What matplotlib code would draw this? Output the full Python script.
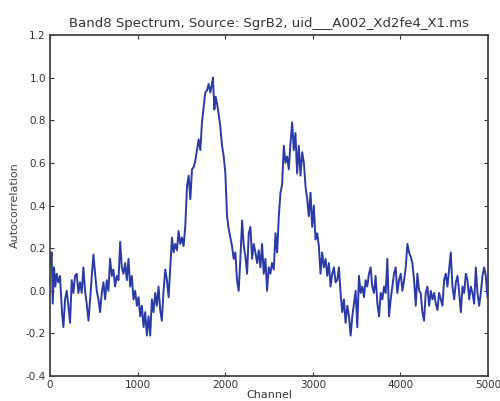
import matplotlib
matplotlib.use("Agg")
import matplotlib.pyplot as plt
from matplotlib.ticker import FormatStrFormatter

plt.rcParams['axes.unicode_minus'] = False
plt.rcParams['font.family'] = ['DejaVu Sans']

title = "Band8 Spectrum, Source: SgrB2, uid___A002_Xd2fe4_X1.ms"
x_label = "Channel"
y_label = "Autocorrelation"
x_ticks = [0, 1000, 2000, 3000, 4000, 5000]
y_ticks = [-0.4, -0.2, 0.0, 0.2, 0.4, 0.6, 0.8, 1.0, 1.2]

channel = [
    0, 19, 31, 46, 61, 76, 95, 114, 137, 153, 172, 191, 210, 229, 248, 267, 286,
    305, 324, 343, 362, 381, 400, 419, 439, 458, 477, 496, 515, 534, 553, 572,
    591, 610, 629, 648, 667, 686, 705, 724, 743, 763, 782, 801, 820, 839, 858,
    877, 896, 915, 934, 953, 972, 992, 1011, 1030, 1049, 1068, 1087, 1106, 1125,
    1144, 1163, 1182, 1201, 1220, 1239, 1258, 1277, 1296, 1316, 1335, 1354, 1373,
    1392, 1411, 1430, 1449, 1468, 1487, 1506, 1525, 1544, 1564, 1583, 1602, 1621,
    1640, 1659, 1678, 1697, 1716, 1735, 1754, 1773, 1792, 1811, 1830, 1849, 1860,
    1876, 1891, 1906, 1925, 1944, 1964, 1983, 2002, 2021, 2040, 2059, 2078, 2097,
    2116, 2135, 2154, 2173, 2193, 2212, 2231, 2250, 2269, 2288, 2307, 2326, 2345,
    2364, 2383, 2402, 2421, 2440, 2459, 2478, 2497, 2516, 2535, 2555, 2574, 2593,
    2612, 2631, 2650, 2669, 2688, 2707, 2726, 2745, 2764, 2783, 2802, 2821, 2840,
    2860, 2879, 2898, 2917, 2936, 2955, 2974, 2993, 3012, 3031, 3050, 3069, 3088,
    3107, 3127, 3146, 3165, 3184, 3203, 3222, 3241, 3260, 3279, 3298, 3317, 3336,
    3355, 3374, 3394, 3413, 3432, 3451, 3470, 3489, 3508, 3527, 3546, 3565, 3584,
    3603, 3622, 3641, 3660, 3679, 3698, 3717, 3737, 3756, 3775, 3794, 3813, 3832,
    3851, 3870, 3889, 3908, 3927, 3946, 3965, 3984, 4004, 4023, 4042, 4061, 4080,
    4099, 4118, 4137, 4156, 4175, 4194, 4213, 4232, 4251, 4270, 4289, 4308, 4328,
    4347, 4366, 4385, 4404, 4423, 4442, 4461, 4480, 4499, 4518, 4537, 4556, 4575,
    4594, 4614, 4633, 4652, 4671, 4690, 4709, 4728, 4747, 4766, 4785, 4804, 4823,
    4842, 4861, 4880, 4899, 4918, 4937, 4956, 4975, 4994,
]

autocorr = [
    0.12, 0.18, -0.06, 0.11, 0.02, 0.08, 0.04, 0.07, -0.10, -0.17, -0.04, 0.00,
    -0.07, -0.15, 0.05, -0.01, 0.07, 0.08, -0.01, 0.04, -0.01, 0.11, 0.00, -0.06,
    -0.14, -0.04, 0.07, 0.17, 0.08, 0.00, -0.04, -0.10, -0.01, 0.04, -0.04, 0.05,
    0.00, 0.15, 0.07, 0.10, 0.02, 0.07, 0.05, 0.23, 0.11, 0.08, 0.13, 0.05, 0.15,
    0.02, 0.07, -0.04, 0.00, -0.07, -0.03, -0.12, -0.07, -0.17, -0.10, -0.21,
    -0.12, -0.21, -0.04, -0.10, -0.01, -0.07, 0.02, -0.09, -0.14, 0.00, 0.10,
    0.05, -0.03, 0.11, 0.25, 0.18, 0.22, 0.19, 0.28, 0.22, 0.25, 0.21, 0.30,
    0.49, 0.54, 0.43, 0.57, 0.58, 0.61, 0.66, 0.71, 0.66, 0.79, 0.86, 0.93, 0.94,
    0.97, 0.93, 0.97, 1.00, 0.85, 0.91, 0.88, 0.83, 0.77, 0.68, 0.63, 0.55, 0.35,
    0.29, 0.25, 0.21, 0.15, 0.18, 0.05, 0.00, 0.15, 0.33, 0.21, 0.16, 0.08, 0.27,
    0.30, 0.15, 0.22, 0.18, 0.13, 0.19, 0.11, 0.22, 0.08, 0.15, 0.00, 0.11, 0.08,
    0.13, 0.10, 0.27, 0.18, 0.35, 0.46, 0.50, 0.68, 0.60, 0.63, 0.57, 0.69, 0.79,
    0.66, 0.74, 0.55, 0.68, 0.54, 0.65, 0.60, 0.49, 0.43, 0.35, 0.46, 0.30, 0.40,
    0.24, 0.27, 0.21, 0.08, 0.18, 0.11, 0.15, 0.07, 0.13, 0.02, 0.08, 0.11, 0.04,
    0.05, 0.11, -0.01, -0.10, -0.04, -0.15, -0.07, -0.12, -0.21, -0.12, -0.06,
    0.00, -0.17, 0.07, -0.01, 0.02, -0.03, 0.05, 0.02, 0.08, 0.11, 0.02, -0.01,
    0.07, -0.06, -0.12, -0.01, -0.04, 0.02, -0.01, 0.15, -0.12, -0.04, 0.02, 0.08,
    0.11, -0.01, 0.05, 0.08, 0.00, 0.05, 0.11, 0.22, 0.18, 0.16, 0.13, 0.05,
    -0.07, 0.08, 0.00, -0.01, -0.10, -0.14, -0.01, 0.02, -0.07, 0.00, -0.04,
    -0.01, -0.06, -0.09, -0.01, -0.04, -0.07, 0.05, 0.08, 0.02, 0.10, 0.18, 0.02,
    -0.04, 0.04, 0.07, -0.01, -0.10, 0.02, -0.01, 0.08, 0.05, -0.04, 0.02, -0.01,
    -0.06, 0.11, -0.01, -0.07, -0.01, 0.07, 0.11, 0.07, -0.03,
]

fig = plt.figure(figsize=(5.0, 4.01), dpi=100)
ax = fig.add_axes([0.100, 0.062, 0.876, 0.851])

ax.plot(channel, autocorr, color='#2a3aa6', linewidth=1.4)

ax.set_xlim(0, 5000)
ax.set_ylim(-0.4, 1.2)
ax.set_xticks(x_ticks)
ax.set_yticks(y_ticks)
ax.yaxis.set_major_formatter(FormatStrFormatter('%.1f'))
ax.tick_params(direction='in', top=True, right=True, length=3, width=0.8,
               labelsize=7.5, colors='#333333', pad=3)
for s in ax.spines.values():
    s.set_color('#444444')
    s.set_linewidth(1.3)

ax.set_title(title, fontsize=9.5, color='#333333', pad=6)
ax.set_xlabel(x_label, fontsize=8, color='#333333', labelpad=0)
ax.set_ylabel(y_label, fontsize=8, color='#444444', labelpad=4)

fig.savefig("out.png", dpi=100)
